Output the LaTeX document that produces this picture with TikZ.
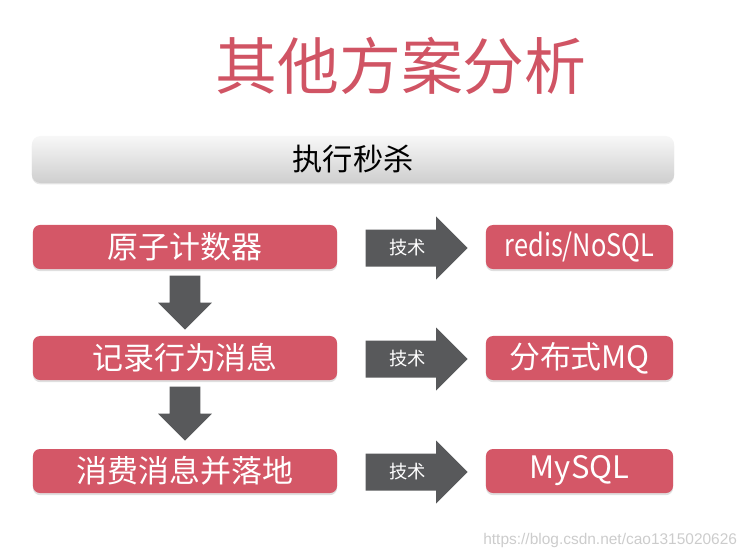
\documentclass[tikz,border=0pt]{standalone}
\usepackage{fontspec}
\setmainfont{Noto Sans CJK SC}
\newfontfamily\narrowfont[FakeStretch=0.82]{Noto Sans CJK SC}
\newfontfamily\wmfont{Liberation Sans}
\usetikzlibrary{shapes.arrows, shadows, positioning}
\definecolor{slideRed}{HTML}{D45767}
\definecolor{titleRed}{HTML}{D05464}
\definecolor{arrowGray}{HTML}{58595B}

\tikzset{
  stepbox/.style={rectangle, rounded corners=5pt, fill=slideRed, text=white,
    minimum height=1.1cm, font=\fontsize{22}{22}\selectfont,
    drop shadow={shadow xshift=0pt, shadow yshift=-1.5pt, opacity=0.25}},
  techarrow/.style={single arrow, fill=arrowGray, text=white, inner xsep=0pt,
    inner ysep=0.245cm, single arrow head extend=0.325cm, minimum height=2.55cm,
    anchor=tail, font=\fontsize{13}{13}\selectfont},
  downarrow/.style={single arrow, shape border rotate=270, fill=arrowGray,
    inner sep=0.375cm, single arrow head extend=0.29cm, minimum height=1.35cm,
    anchor=tail},
}

\begin{document}
\begin{tikzpicture}[x=0.025cm, y=-0.025cm]
  \useasboundingbox (0,0) rectangle (747,558);
  \node[text=titleRed, font=\fontsize{44}{44}\selectfont] (title) at (401,66) {其他方案分析};
  \node[rectangle, rounded corners=6pt, top color=gray!6, bottom color=gray!38,
        minimum width=16.05cm, minimum height=1.175cm, font=\fontsize{21.5}{21.5}\selectfont,
        drop shadow={shadow xshift=0pt, shadow yshift=-1pt, opacity=0.2}]
    (exec) at (353,159.5) {执行秒杀};
  % three rows: step, technique, tool
  \foreach \i/\y/\w/\t in {1/247/原子计数器/{\narrowfont redis/NoSQL},
                           2/358/记录行为消息/{分布式MQ},
                           3/471/消费消息并落地/{MySQL}} {
    \node[stepbox, minimum width=7.6cm] (step\i) at (185,\y) {\w};
    \node[techarrow] (tech\i) at ([xshift=0.7cm, yshift=-0.025cm]step\i.east) {技术};
    \node[stepbox, minimum width=4.675cm] (tool\i) at (579.5,\y) {\t};
  }
  \node[downarrow] (down1) at ([yshift=-0.15cm]step1.south) {};
  \node[downarrow] (down2) at ([yshift=-0.15cm]step2.south) {};
  \node[text=gray!40, font=\wmfont\fontsize{11}{11}\selectfont, anchor=east]
    (wm) at (742,540) {https://blog.csdn.net/cao1315020626};
\end{tikzpicture}
\end{document}
